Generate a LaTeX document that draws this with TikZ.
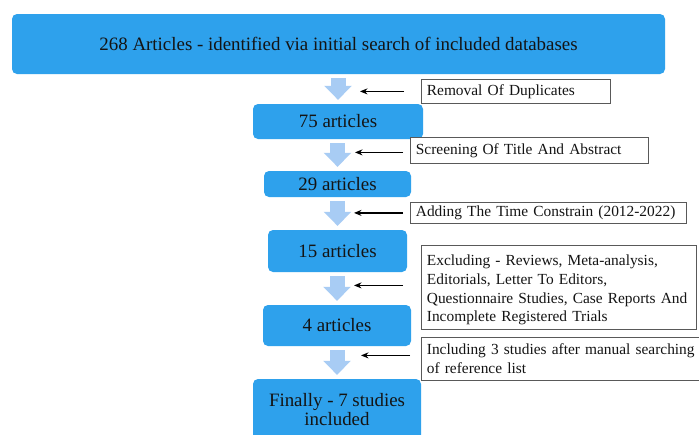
\documentclass[tikz,border=0pt]{standalone}
\usepackage{fontspec}
\setmainfont{Liberation Serif}
\usetikzlibrary{arrows.meta}
\definecolor{boxblue}{RGB}{46,161,236}
\definecolor{arrowblue}{RGB}{168,204,244}
\definecolor{txt}{RGB}{20,20,20}
\hbadness=10000 \hfuzz=50pt
\begin{document}
\begin{tikzpicture}[x=1pt,y=-1pt,
  bluebox/.style={fill=boxblue, rounded corners=5pt, align=center, inner sep=0pt,
    text=txt, font=\fontsize{18.9}{18.3}\selectfont},
  sidebox/.style={draw=black!65, line width=0.8pt, fill=white, anchor=north west,
    align=left, inner xsep=5.5pt, inner ysep=0pt, text=txt,
    font=\fontsize{15.4}{18.6}\selectfont},
  downarrow/.style={draw=arrowblue, line width=15pt,
    -{Triangle[length=14pt,width=27pt]}, shorten <=4pt, shorten >=4pt},
  sidearrow/.style={draw=black, line width=1.2pt, -{Stealth[length=7.5pt,width=6pt]}}]
\clip (0,0) rectangle (699,434);
\fill[white] (0,0) rectangle (699,434);

% main boxes
\node[bluebox, minimum width=653pt, minimum height=60pt] (top) at (338.5,44)
  {268 Articles - identified via initial search of included databases};
\node[bluebox, minimum width=170pt, minimum height=35pt] (b75) at (338,121.5) {75 articles};
\node[bluebox, minimum width=147pt, minimum height=26pt] (b29) at (337.5,184) {29 articles};
\node[bluebox, minimum width=139pt, minimum height=42pt] (b15) at (337.5,251) {15 articles};
\node[bluebox, minimum width=148pt, minimum height=41pt] (b4) at (337,325.5) {4 articles};
\node[bluebox, minimum width=168pt, minimum height=61pt] (bfin) at (337,409.5)
  {Finally - 7 studies\\included};

% side boxes
\node[sidebox, minimum width=189pt, minimum height=24pt, text width=178pt] (r1) at (421,79)
  {\mbox{Removal Of Duplicates}};
\node[sidebox, minimum width=238pt, minimum height=26pt, text width=227pt] (r2) at (410,137)
  {\mbox{Screening Of Title And Abstract}};
\node[sidebox, minimum width=276pt, minimum height=21pt, text width=265pt] (r3) at (410,202)
  {\mbox{Adding The Time Constrain (2012-2022)}};
\node[sidebox, minimum width=275pt, minimum height=84pt, text width=264pt] (r4) at (421,245)
  {\rule{0pt}{16pt}\mbox{Excluding - Reviews, Meta-analysis,}\\
   \mbox{Editorials, Letter To Editors,}\\
   \mbox{Questionnaire Studies, Case Reports And}\\
   \mbox{Incomplete Registered Trials}};
\node[sidebox, minimum width=282pt, minimum height=43pt, text width=271pt] (r5) at (421,337)
  {\mbox{Including 3 studies after manual searching}\\
   \mbox{of reference list}};

% down arrows
\draw[downarrow] (top.south -| b75.north) -- (b75.north);
\draw[downarrow] (b75.south -| b29.north) -- (b29.north);
\draw[downarrow] (b29.south) -- (b15.north);
\draw[downarrow] (b15.south -| b4.north) -- (b4.north);
\draw[downarrow] (b4.south) -- (bfin.north);

% side arrows
\draw[sidearrow] ([shift={(-17,0)}]r1.west) -- ++(-44,0);
\draw[sidearrow] ([shift={(-7,2)}]r2.west) -- ++(-48,0);
\draw[sidearrow] ([shift={(-7,0)}]r3.west) -- ++(-49,0);
\draw[sidearrow] ([shift={(-18,-2)}]r4.west) -- ++(-49,0);
\draw[sidearrow] ([shift={(-11,-3.5)}]r5.west) -- ++(-49,0);
\end{tikzpicture}
\end{document}
